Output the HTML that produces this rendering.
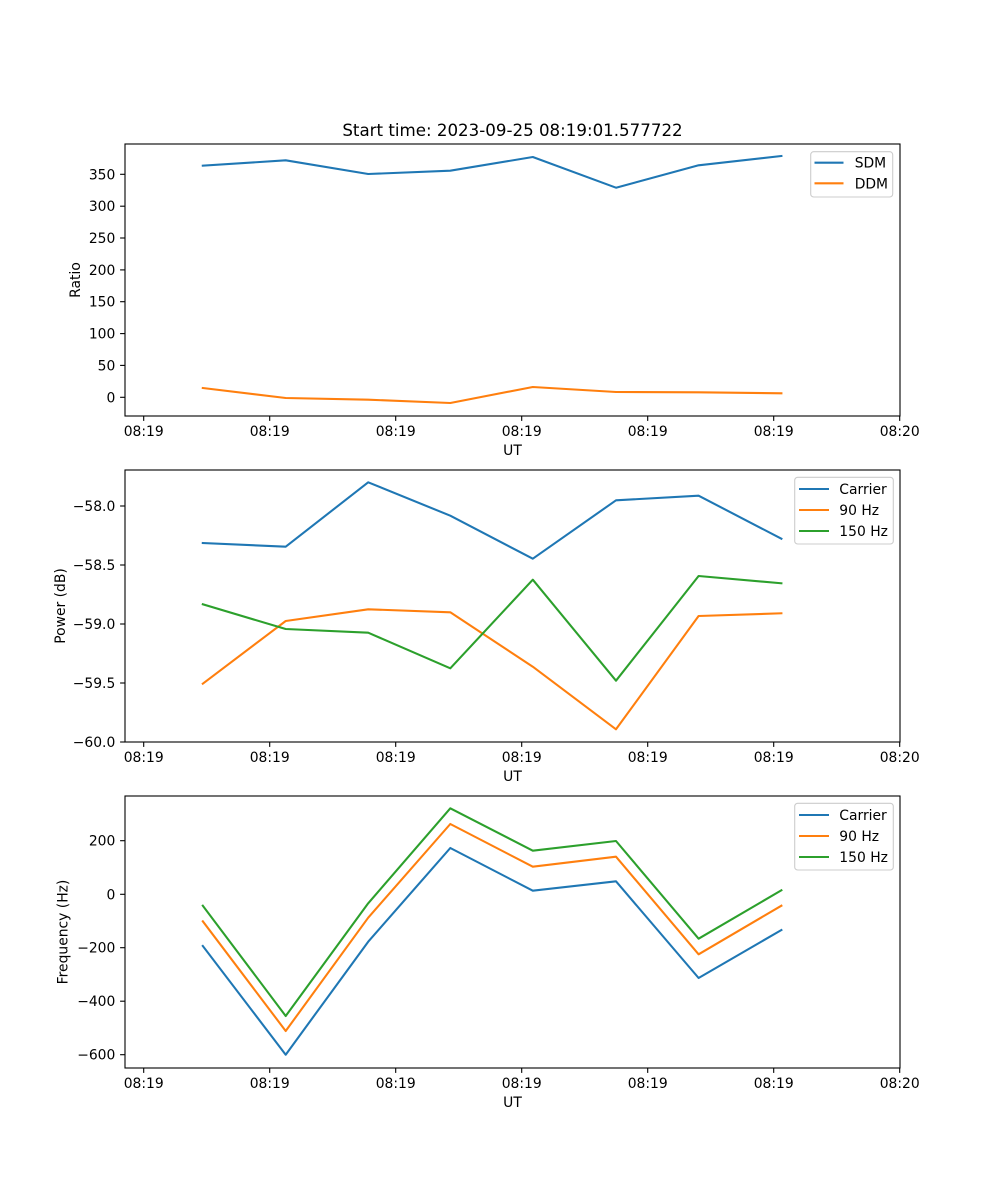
<!DOCTYPE html>
<html><head><meta charset="utf-8"><style>
html,body{margin:0;padding:0;background:#fff;}
svg{display:block;}
text{font-family:"DejaVu Sans","Liberation Sans",sans-serif;fill:#000;}
</style></head><body>
<svg width="1000" height="1200" viewBox="0 0 1000 1200" xmlns="http://www.w3.org/2000/svg">
<rect width="1000" height="1200" fill="#fff"/>
<text x="512.5" y="136" font-size="16.67" text-anchor="middle">Start time: 2023-09-25 08:19:01.577722</text>

<!-- Panel 1 -->
<g fill="none" stroke-width="2.08" stroke-linejoin="round" stroke-linecap="square">
<polyline stroke="#1f77b4" points="202.8,165.7 285.7,160.3 368.2,174 450.3,170.7 532.8,157 616,187.7 698.6,165.3 781.4,156"/>
<polyline stroke="#ff7f0e" points="202.8,388 285.7,398 368.2,399.7 450.3,403 532.8,387 616,392 698.6,392.3 781.4,393.3"/>
</g>
<rect x="125" y="144" width="775" height="272" fill="none" stroke="#000" stroke-width="1.1"/>
<g stroke="#000" stroke-width="1.1">
<line x1="143.7" y1="416" x2="143.7" y2="420.9"/><line x1="269.7" y1="416" x2="269.7" y2="420.9"/><line x1="395.7" y1="416" x2="395.7" y2="420.9"/><line x1="521.7" y1="416" x2="521.7" y2="420.9"/><line x1="647.7" y1="416" x2="647.7" y2="420.9"/><line x1="773.7" y1="416" x2="773.7" y2="420.9"/><line x1="899.7" y1="416" x2="899.7" y2="420.9"/>
<line x1="120.1" y1="397.3" x2="125" y2="397.3"/><line x1="120.1" y1="365.4" x2="125" y2="365.4"/><line x1="120.1" y1="333.6" x2="125" y2="333.6"/><line x1="120.1" y1="301.7" x2="125" y2="301.7"/><line x1="120.1" y1="269.9" x2="125" y2="269.9"/><line x1="120.1" y1="238" x2="125" y2="238"/><line x1="120.1" y1="206.2" x2="125" y2="206.2"/><line x1="120.1" y1="174.3" x2="125" y2="174.3"/>
</g>
<g font-size="13.89" text-anchor="middle">
<text x="143.7" y="436">08:19</text><text x="269.7" y="436">08:19</text><text x="395.7" y="436">08:19</text><text x="521.7" y="436">08:19</text><text x="647.7" y="436">08:19</text><text x="773.7" y="436">08:19</text><text x="899.7" y="436">08:20</text>
<text x="512.5" y="455">UT</text>
</g>
<g font-size="13.89" text-anchor="end">
<text x="115.3" y="402.3">0</text><text x="115.3" y="370.4">50</text><text x="115.3" y="338.6">100</text><text x="115.3" y="306.7">150</text><text x="115.3" y="274.9">200</text><text x="115.3" y="243">250</text><text x="115.3" y="211.2">300</text><text x="115.3" y="179.3">350</text>
</g>
<text transform="translate(80,280) rotate(-90)" font-size="13.89" text-anchor="middle">Ratio</text>
<rect x="810.7" y="151.7" width="82" height="45.3" rx="3" fill="#fff" fill-opacity="0.8" stroke="#cccccc" stroke-width="1.1"/>
<line x1="814.5" y1="162.7" x2="843.5" y2="162.7" stroke="#1f77b4" stroke-width="2.08"/>
<line x1="814.5" y1="183.3" x2="843.5" y2="183.3" stroke="#ff7f0e" stroke-width="2.08"/>
<text x="854.7" y="167.7" font-size="13.89">SDM</text>
<text x="854.7" y="188.3" font-size="13.89">DDM</text>

<!-- Panel 2 -->
<g fill="none" stroke-width="2.08" stroke-linejoin="round" stroke-linecap="square">
<polyline stroke="#1f77b4" points="202.8,543 285.7,546.7 368.2,482.3 450.3,515.7 532.8,558.7 616,500.3 698.6,495.7 781.4,538.7"/>
<polyline stroke="#ff7f0e" points="202.8,683.7 285.7,621 368.2,609.3 450.3,612.3 532.8,666.7 616,729.3 698.6,616 781.4,613.3"/>
<polyline stroke="#2ca02c" points="202.8,604.3 285.7,629 368.2,632.7 450.3,668.3 532.8,579.7 616,680.7 698.6,576 781.4,583.3"/>
</g>
<rect x="125" y="470" width="775" height="272" fill="none" stroke="#000" stroke-width="1.1"/>
<g stroke="#000" stroke-width="1.1">
<line x1="143.7" y1="742" x2="143.7" y2="746.9"/><line x1="269.7" y1="742" x2="269.7" y2="746.9"/><line x1="395.7" y1="742" x2="395.7" y2="746.9"/><line x1="521.7" y1="742" x2="521.7" y2="746.9"/><line x1="647.7" y1="742" x2="647.7" y2="746.9"/><line x1="773.7" y1="742" x2="773.7" y2="746.9"/><line x1="899.7" y1="742" x2="899.7" y2="746.9"/>
<line x1="120.1" y1="506" x2="125" y2="506"/><line x1="120.1" y1="565" x2="125" y2="565"/><line x1="120.1" y1="624" x2="125" y2="624"/><line x1="120.1" y1="683" x2="125" y2="683"/><line x1="120.1" y1="742" x2="125" y2="742"/>
</g>
<g font-size="13.89" text-anchor="middle">
<text x="143.7" y="762">08:19</text><text x="269.7" y="762">08:19</text><text x="395.7" y="762">08:19</text><text x="521.7" y="762">08:19</text><text x="647.7" y="762">08:19</text><text x="773.7" y="762">08:19</text><text x="899.7" y="762">08:20</text>
<text x="512.5" y="781">UT</text>
</g>
<g font-size="13.89" text-anchor="end">
<text x="115.3" y="511">−58.0</text><text x="115.3" y="570">−58.5</text><text x="115.3" y="629">−59.0</text><text x="115.3" y="688">−59.5</text><text x="115.3" y="747">−60.0</text>
</g>
<text transform="translate(65,606) rotate(-90)" font-size="13.89" text-anchor="middle">Power (dB)</text>
<rect x="794.7" y="477.3" width="98.6" height="66.7" rx="3" fill="#fff" fill-opacity="0.8" stroke="#cccccc" stroke-width="1.1"/>
<line x1="799" y1="489" x2="829" y2="489" stroke="#1f77b4" stroke-width="2.08"/>
<line x1="799" y1="510" x2="829" y2="510" stroke="#ff7f0e" stroke-width="2.08"/>
<line x1="799" y1="531" x2="829" y2="531" stroke="#2ca02c" stroke-width="2.08"/>
<text x="839.3" y="494" font-size="13.89">Carrier</text>
<text x="839.3" y="515" font-size="13.89">90 Hz</text>
<text x="839.3" y="536" font-size="13.89">150 Hz</text>

<!-- Panel 3 -->
<g fill="none" stroke-width="2.08" stroke-linejoin="round" stroke-linecap="square">
<polyline stroke="#1f77b4" points="202.8,946 285.7,1054.7 368.2,941.7 450.3,848 532.8,890.7 616,881.3 698.6,978 781.4,930"/>
<polyline stroke="#ff7f0e" points="202.8,921.3 285.7,1031 368.2,917.7 450.3,824 532.8,866.7 616,856.7 698.6,954.3 781.4,905.7"/>
<polyline stroke="#2ca02c" points="202.8,905.7 285.7,1016 368.2,903.3 450.3,808.3 532.8,850.7 616,841 698.6,938.7 781.4,890.3"/>
</g>
<rect x="125" y="796" width="775" height="272" fill="none" stroke="#000" stroke-width="1.1"/>
<g stroke="#000" stroke-width="1.1">
<line x1="143.7" y1="1068" x2="143.7" y2="1072.9"/><line x1="269.7" y1="1068" x2="269.7" y2="1072.9"/><line x1="395.7" y1="1068" x2="395.7" y2="1072.9"/><line x1="521.7" y1="1068" x2="521.7" y2="1072.9"/><line x1="647.7" y1="1068" x2="647.7" y2="1072.9"/><line x1="773.7" y1="1068" x2="773.7" y2="1072.9"/><line x1="899.7" y1="1068" x2="899.7" y2="1072.9"/>
<line x1="120.1" y1="840.7" x2="125" y2="840.7"/><line x1="120.1" y1="894.3" x2="125" y2="894.3"/><line x1="120.1" y1="947.7" x2="125" y2="947.7"/><line x1="120.1" y1="1001.2" x2="125" y2="1001.2"/><line x1="120.1" y1="1054.7" x2="125" y2="1054.7"/>
</g>
<g font-size="13.89" text-anchor="middle">
<text x="143.7" y="1088">08:19</text><text x="269.7" y="1088">08:19</text><text x="395.7" y="1088">08:19</text><text x="521.7" y="1088">08:19</text><text x="647.7" y="1088">08:19</text><text x="773.7" y="1088">08:19</text><text x="899.7" y="1088">08:20</text>
<text x="512.5" y="1107">UT</text>
</g>
<g font-size="13.89" text-anchor="end">
<text x="115.3" y="845.7">200</text><text x="115.3" y="899.3">0</text><text x="115.3" y="952.7">−200</text><text x="115.3" y="1006.2">−400</text><text x="115.3" y="1059.7">−600</text>
</g>
<text transform="translate(67.5,932) rotate(-90)" font-size="13.89" text-anchor="middle">Frequency (Hz)</text>
<rect x="794.7" y="803.3" width="98.6" height="66.7" rx="3" fill="#fff" fill-opacity="0.8" stroke="#cccccc" stroke-width="1.1"/>
<line x1="799" y1="815" x2="829" y2="815" stroke="#1f77b4" stroke-width="2.08"/>
<line x1="799" y1="836" x2="829" y2="836" stroke="#ff7f0e" stroke-width="2.08"/>
<line x1="799" y1="857" x2="829" y2="857" stroke="#2ca02c" stroke-width="2.08"/>
<text x="839.3" y="820" font-size="13.89">Carrier</text>
<text x="839.3" y="841" font-size="13.89">90 Hz</text>
<text x="839.3" y="862" font-size="13.89">150 Hz</text>
</svg>
</body></html>
